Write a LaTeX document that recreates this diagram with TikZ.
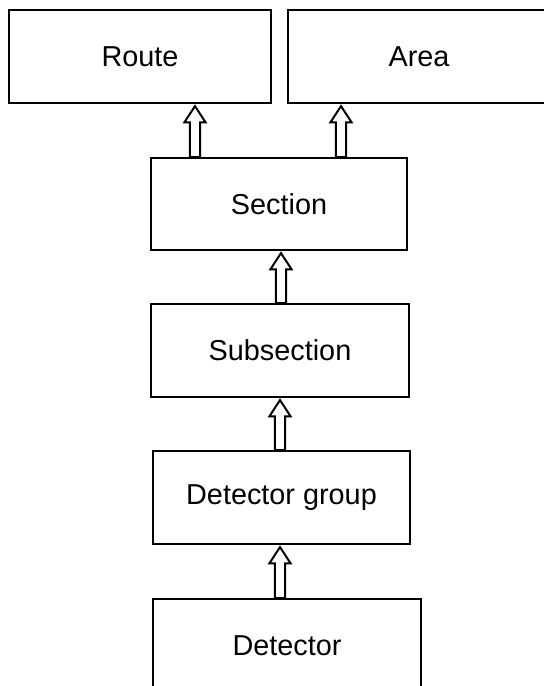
\documentclass[tikz,border=0pt]{standalone}
\usepackage{fontspec}
\setmainfont{Liberation Sans}
\usepackage{tikz}
\usetikzlibrary{calc}

\tikzset{
    % Cajas de la jerarquia
    level/.style={draw, line width=1.4pt, minimum height=2.325cm, inner sep=0pt,
        font=\fontsize{20.5}{24}\selectfont},
    % Flecha hueca (block arrow) de una caja a otra
    hollow/.style={draw, fill=white, line width=1.4pt,
        to path={let \p1=(\tikztostart), \p2=(\tikztotarget) in
            (\x1-3.6pt,\y1) -- (\x1-3.6pt,\y2-13pt) -- (\x1-7.5pt,\y2-13pt)
            -- (\x1,\y2-1.5pt) -- (\x1+7.5pt,\y2-13pt) -- (\x1+3.6pt,\y2-13pt)
            -- (\x1+3.6pt,\y1) -- cycle}}
}

\begin{document}
\begin{tikzpicture}[x=0.025cm, y=-0.025cm]

    % Marco de la imagen
    \path[use as bounding box, clip] (0,0) rectangle (544,686);

    % --- 1. NIVEL SUPERIOR ---
    \node[level, minimum width=6.55cm] (route) at (140,56.5) {Route};
    \node[level, minimum width=6.55cm] (area) at (419,56.5) {Area};

    % --- 2. NIVELES INTERMEDIOS ---
    \node[level, minimum width=6.4cm, minimum height=2.3cm] (section) at (279,204) {Section};
    \node[level, minimum width=6.45cm] (subsection) at (280,350.5) {Subsection};
    \node[level, minimum width=6.425cm] (group) at (281.5,497.5) {Detector group};

    % --- 3. NIVEL INFERIOR ---
    \node[level, minimum width=6.7cm] (detector) at (287,645.5) {Detector};

    % Flechas huecas (de abajo hacia arriba)
    \path[hollow] ([xshift=-2.1cm]section.north) to (route.south);
    \path[hollow] ([xshift=1.55cm]section.north) to (area.south);
    \path[hollow] ([xshift=0.025cm]subsection.north) to (section.south);
    \path[hollow] ([xshift=-0.0375cm]group.north) to (subsection.south);
    \path[hollow] ([xshift=-0.175cm]detector.north) to (group.south);

\end{tikzpicture}
\end{document}
